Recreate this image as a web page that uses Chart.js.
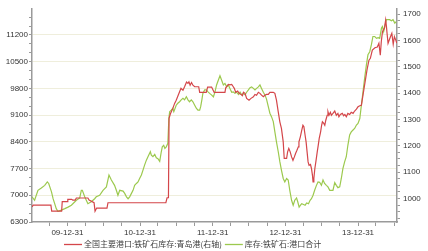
<!DOCTYPE html>
<html><head><meta charset="utf-8">
<script src="https://cdn.jsdelivr.net/npm/chart.js@4/dist/chart.umd.min.js"></script>
<style>html,body{margin:0;padding:0;background:#fff;}#wrap{width:428px;height:251px;position:relative;}</style>
</head><body><div id="wrap"><canvas id="c" width="428" height="251"></canvas></div>
<script>
const seriesNames = ['全国主要港口:铁矿石库存:青岛港(右轴)', '库存:铁矿石:港口合计'];

const redDates = ['2009-07-06','2009-07-12','2009-10-09','2009-10-13','2009-12-02','2009-12-05','2009-12-30','2010-01-02','2010-01-22','2010-01-27','2010-02-08','2010-02-14','2010-04-13','2010-04-19','2010-05-14','2010-05-19','2010-05-27','2010-07-18','2010-07-23','2011-05-10','2011-05-16','2011-05-23','2011-05-26','2011-06-03','2011-06-14','2011-06-23','2011-07-01','2011-07-08','2011-07-18','2011-07-25','2011-08-04','2011-08-12','2011-08-22','2011-08-29','2011-09-03','2011-09-09','2011-09-16','2011-09-23','2011-10-02','2011-10-22','2011-10-27','2011-11-29','2011-12-06','2011-12-26','2012-01-02','2012-01-08','2012-03-02','2012-03-06','2012-03-19','2012-03-27','2012-04-05','2012-04-13','2012-04-18','2012-04-25','2012-05-05','2012-05-12','2012-05-22','2012-05-29','2012-06-03','2012-06-11','2012-06-19','2012-07-01','2012-07-11','2012-07-23','2012-07-31','2012-08-08','2012-08-17','2012-08-25','2012-09-02','2012-09-11','2012-09-19','2012-09-27','2012-10-06','2012-10-14','2012-10-31','2012-11-08','2012-11-16','2012-11-25','2012-12-03','2012-12-11','2012-12-20','2012-12-25','2013-01-06','2013-01-11','2013-01-17','2013-01-24','2013-01-31','2013-02-07','2013-02-14','2013-02-20','2013-02-27','2013-03-06','2013-03-09','2013-03-16','2013-03-23','2013-03-29','2013-04-03','2013-04-09','2013-04-14','2013-04-19','2013-04-24','2013-04-29','2013-05-06','2013-05-11','2013-05-16','2013-05-19','2013-05-23','2013-05-28','2013-06-02','2013-06-09','2013-06-14','2013-06-19','2013-06-26','2013-07-01','2013-07-05','2013-07-12','2013-07-17','2013-07-22','2013-07-29','2013-08-02','2013-08-07','2013-08-14','2013-08-19','2013-08-27','2013-09-05','2013-09-13','2013-09-21','2013-09-26','2013-10-03','2013-10-13','2013-10-20','2013-10-26','2013-11-02','2013-11-10','2013-11-19','2013-11-27','2013-12-06','2013-12-14','2013-12-23','2013-12-31','2014-01-09','2014-01-17','2014-01-25','2014-02-02','2014-02-14','2014-02-24','2014-03-03','2014-03-13','2014-03-26','2014-04-07','2014-04-15','2014-04-22','2014-04-27','2014-05-03','2014-05-13','2014-05-19','2014-05-23','2014-05-26','2014-05-31','2014-06-12','2014-06-19','2014-06-26','2014-07-02','2014-07-09','2014-07-14'];
const redValues = [968,975,975,952,952,988,988,997,997,994,994,1002,1002,994,984,952,964,964,984,984,1003,1003,1304,1324,1342,1361,1373,1386,1405,1418,1411,1424,1442,1437,1443,1430,1440,1430,1424,1424,1403,1403,1423,1423,1412,1403,1403,1420,1433,1431,1433,1424,1418,1403,1408,1399,1395,1390,1403,1399,1380,1373,1380,1386,1395,1392,1403,1399,1392,1386,1392,1395,1395,1403,1403,1399,1373,1329,1291,1266,1215,1152,1152,1177,1190,1177,1158,1145,1158,1171,1183,1196,1215,1234,1259,1278,1272,1240,1215,1177,1139,1126,1129,1114,1088,1063,1076,1114,1139,1177,1202,1228,1253,1278,1291,1285,1278,1297,1316,1329,1316,1327,1316,1323,1332,1316,1323,1310,1319,1323,1314,1319,1310,1323,1319,1327,1323,1332,1339,1348,1352,1354,1392,1430,1487,1525,1532,1563,1572,1575,1589,1544,1595,1633,1647,1677,1652,1627,1589,1614,1627,1585,1614,1601,1590];

const greenDates = ['2009-07-06','2009-07-19','2009-08-05','2009-08-22','2009-09-08','2009-09-21','2009-09-28','2009-10-12','2009-10-20','2009-10-28','2009-11-05','2009-11-13','2009-12-01','2009-12-18','2010-01-03','2010-01-20','2010-02-14','2010-03-03','2010-03-11','2010-03-16','2010-03-28','2010-04-05','2010-04-13','2010-04-30','2010-05-17','2010-05-25','2010-06-11','2010-06-28','2010-07-15','2010-07-28','2010-08-09','2010-08-25','2010-09-03','2010-09-11','2010-09-20','2010-10-07','2010-10-15','2010-10-24','2010-11-01','2010-11-09','2010-11-18','2010-11-26','2010-12-04','2010-12-13','2010-12-21','2010-12-29','2011-01-07','2011-01-15','2011-01-23','2011-02-01','2011-02-09','2011-02-21','2011-02-26','2011-03-06','2011-03-15','2011-03-23','2011-03-31','2011-04-09','2011-04-17','2011-04-22','2011-04-29','2011-05-05','2011-05-12','2011-05-20','2011-05-25','2011-05-29','2011-06-06','2011-06-14','2011-06-19','2011-07-01','2011-07-09','2011-07-18','2011-07-26','2011-08-04','2011-08-12','2011-08-21','2011-08-29','2011-09-06','2011-09-15','2011-09-23','2011-10-02','2011-10-10','2011-10-18','2011-10-27','2011-11-01','2011-11-07','2011-11-12','2011-11-21','2011-11-29','2011-12-08','2011-12-16','2011-12-25','2012-01-04','2012-01-12','2012-01-20','2012-01-29','2012-02-06','2012-02-14','2012-02-23','2012-03-02','2012-03-11','2012-03-19','2012-03-27','2012-04-05','2012-04-13','2012-04-21','2012-04-30','2012-05-09','2012-05-17','2012-05-25','2012-06-03','2012-06-11','2012-06-19','2012-06-28','2012-07-06','2012-07-14','2012-07-23','2012-07-31','2012-08-08','2012-08-17','2012-08-25','2012-09-02','2012-09-11','2012-09-19','2012-09-27','2012-10-06','2012-10-14','2012-10-22','2012-10-31','2012-11-08','2012-11-16','2012-11-25','2012-12-03','2012-12-11','2012-12-20','2012-12-28','2013-01-06','2013-01-14','2013-01-22','2013-01-31','2013-02-08','2013-02-16','2013-02-25','2013-03-03','2013-03-10','2013-03-17','2013-03-23','2013-04-01','2013-04-09','2013-04-17','2013-04-26','2013-05-04','2013-05-11','2013-05-19','2013-05-27','2013-06-05','2013-06-13','2013-06-21','2013-06-30','2013-07-08','2013-07-16','2013-07-25','2013-08-02','2013-08-11','2013-08-19','2013-08-27','2013-09-05','2013-09-13','2013-09-21','2013-09-30','2013-10-08','2013-10-16','2013-10-25','2013-11-02','2013-11-10','2013-11-19','2013-11-27','2013-12-06','2013-12-14','2013-12-23','2013-12-31','2014-01-09','2014-01-17','2014-01-25','2014-02-02','2014-02-11','2014-02-19','2014-02-28','2014-03-08','2014-03-16','2014-03-25','2014-04-03','2014-04-11','2014-04-19','2014-04-28','2014-05-03','2014-05-09','2014-05-16','2014-05-23','2014-05-31','2014-06-08','2014-06-17','2014-06-25','2014-07-04','2014-07-11'];
const greenValues = [6960,6870,7130,7190,7260,7350,7310,7090,6910,6780,6650,6580,6610,6650,6690,6740,6870,6930,7130,7130,6960,6870,6780,6830,6910,6960,7000,7130,7220,7530,7400,7260,7130,7000,7130,7110,7050,6960,6910,6960,7050,7130,7260,7310,7350,7440,7530,7660,7790,7920,8010,8140,8050,8010,8070,7980,7960,7890,8140,8270,8310,8230,8270,8360,9010,9190,9230,9280,9190,9360,9410,9450,9500,9540,9500,9580,9500,9450,9500,9450,9360,9280,9230,9230,9320,9500,9670,9760,9760,9710,9670,9630,9580,9710,9890,10020,10130,10020,9890,9930,9840,9890,9800,9700,9710,9670,9700,9640,9700,9630,9670,9630,9700,9760,9820,9840,9800,9760,9800,9840,9890,9800,9700,9630,9520,9320,9150,9060,8930,8660,8400,8140,7880,7660,7440,7350,7440,7400,7130,6870,6740,6870,6930,6830,6690,6740,6780,6760,6740,6800,6780,6870,6910,7000,7130,7260,7350,7340,7260,7400,7310,7260,7220,7130,7130,7130,7330,7260,7200,7220,7440,7700,7880,8010,8310,8580,8660,8710,8750,8840,8880,9010,9360,9710,10060,10410,10680,10760,10940,11160,11160,11110,11130,11110,11380,11420,11290,11460,11600,11600,11600,11570,11600,11510,11550];

const leftTickLabels = [6300, 7000, 7700, 8400, 9100, 9800, 10500, 11200];
const rightTickLabels = [1000, 1100, 1200, 1300, 1400, 1500, 1600, 1700];
const xTickLabels = ['09-12-31', '10-12-31', '11-12-31', '12-12-31', '13-12-31'];

const RED = '#d4464a';
const GREEN = '#9cc94e';
const AXIS = '#9a9a9a';
const TXT = '#333333';

const ts = s => Date.parse(s);
const redPts = redDates.map((d, i) => ({ x: ts(d), y: redValues[i] }));
const greenPts = greenDates.map((d, i) => ({ x: ts(d), y: greenValues[i] }));

function xLabelOf(v) {
  const d = new Date(v);
  const s = String(d.getUTCFullYear()).slice(2) + '-' + String(d.getUTCMonth() + 1).padStart(2, '0') + '-' + String(d.getUTCDate()).padStart(2, '0');
  return xTickLabels.includes(s) ? s : '';
}

const legendPlugin = {
  id: 'manualLegend',
  afterDraw(chart) {
    const ctx = chart.ctx;
    const y = 244;
    ctx.save();
    ctx.font = '8px "Noto Sans CJK SC", sans-serif';
    ctx.textBaseline = 'middle';
    ctx.fillStyle = '#404040';
    ctx.lineWidth = 1.3;
    ctx.strokeStyle = RED;
    ctx.beginPath(); ctx.moveTo(64, y + 0.5); ctx.lineTo(82, y + 0.5); ctx.stroke();
    ctx.fillText(seriesNames[0], 84, y);
    const w1 = ctx.measureText(seriesNames[0]).width;
    const gx = Math.max(214, 84 + w1 + 3);
    ctx.strokeStyle = GREEN;
    ctx.beginPath(); ctx.moveTo(gx, y + 0.5); ctx.lineTo(gx + 18, y + 0.5); ctx.stroke();
    ctx.fillText(seriesNames[1], gx + 20, y);
    ctx.restore();
  }
};

Chart.defaults.font.family = 'Arial, "Liberation Sans", sans-serif';
Chart.defaults.font.size = 8;
Chart.defaults.color = TXT;

new Chart(document.getElementById('c'), {
  type: 'line',
  data: {
    datasets: [
      { label: seriesNames[0], data: redPts, yAxisID: 'yR', borderColor: RED, borderWidth: 1.2, pointRadius: 0, tension: 0, fill: false },
      { label: seriesNames[1], data: greenPts, yAxisID: 'yL', borderColor: GREEN, borderWidth: 1.2, pointRadius: 0, tension: 0, fill: false }
    ]
  },
  options: {
    responsive: false,
    animation: false,
    devicePixelRatio: 1,
    layout: { padding: { top: 9, left: 0, right: 0, bottom: 0 } },
    plugins: { legend: { display: false }, tooltip: { enabled: false } },
    scales: {
      x: {
        type: 'linear',
        min: ts('2009-07-06'),
        max: ts('2014-07-15'),
        afterBuildTicks(scale) {
          const t = [];
          for (let yr = 2009; yr <= 2014; yr++) {
            for (const md of ['-03-31', '-06-30', '-09-30', '-12-31']) {
              const v = ts(yr + md);
              if (v >= scale.min && v <= scale.max) t.push({ value: v });
            }
          }
          scale.ticks = t;
        },
        afterFit(scale) { scale.height = 29; },
        ticks: { autoSkip: false, maxRotation: 0, padding: 2, callback: v => xLabelOf(v) },
        grid: { drawOnChartArea: false, drawTicks: true, tickLength: 4, color: AXIS, tickColor: AXIS },
        border: { color: AXIS, width: 1.5 }
      },
      yL: {
        type: 'linear',
        position: 'left',
        min: 6300,
        max: 11880,
        afterBuildTicks(scale) {
          const t = [];
          for (let k = 0; ; k++) {
            const v = 6300 + k * 700 / 3;
            if (v > scale.max + 0.01) break;
            t.push({ value: Math.round(v * 1000) / 1000 });
          }
          scale.ticks = t;
        },
        afterFit(scale) { scale.width = 32; },
        ticks: {
          autoSkip: false, padding: 1,
          callback: v => leftTickLabels.includes(Math.round(v)) && Math.abs(v - Math.round(v)) < 0.01 ? String(Math.round(v)) : ''
        },
        grid: {
          drawTicks: true, tickLength: 3,
          color: c => (c.tick && leftTickLabels.includes(Math.round(c.tick.value)) && Math.abs(c.tick.value - Math.round(c.tick.value)) < 0.01 && c.tick.value > 6300) ? '#efeedc' : 'rgba(0,0,0,0)',
          tickColor: AXIS, lineWidth: 1
        },
        border: { color: AXIS, width: 1.5 }
      },
      yR: {
        type: 'linear',
        position: 'right',
        min: 911,
        max: 1719,
        afterBuildTicks(scale) {
          const t = [];
          for (let v = 925; v <= scale.max; v += 25) t.push({ value: v });
          scale.ticks = t;
        },
        afterFit(scale) { scale.width = 31; },
        ticks: { autoSkip: false, padding: 3, callback: v => rightTickLabels.includes(v) ? String(v) : '' },
        grid: { drawOnChartArea: false, drawTicks: true, tickLength: 3, tickColor: AXIS },
        border: { color: AXIS, width: 1.5 }
      }
    }
  },
  plugins: [legendPlugin]
});
</script>
</body></html>
